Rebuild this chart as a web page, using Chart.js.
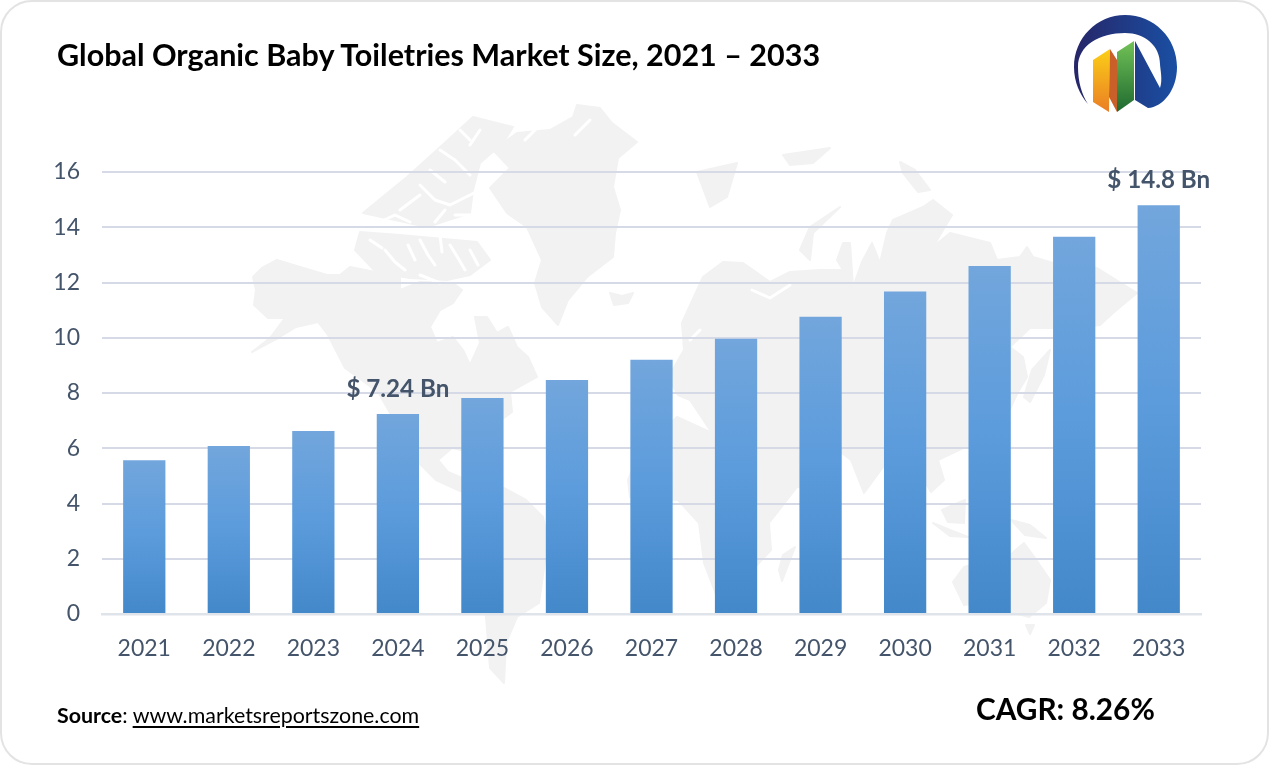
<!DOCTYPE html>
<html>
<head>
<meta charset="utf-8">
<script src="https://cdn.jsdelivr.net/npm/chart.js@4"></script>
<style>
html,body{margin:0;padding:0;background:#fff;width:1269px;height:765px;overflow:hidden;font-family:Lato,"Open Sans",sans-serif}
#frame{position:absolute;left:0;top:0;width:1269px;height:765px;box-sizing:border-box;border:2.5px solid #e3e3e3;border-radius:32px;z-index:5;pointer-events:none}
#map,#logo{position:absolute;left:0;top:0}
#map{z-index:0}#logo{z-index:3}
canvas{position:absolute;left:0;top:0;z-index:1}
.t{position:absolute;white-space:nowrap;color:#000;z-index:4}
#title{left:57px;top:36px;font-size:30.5px;font-weight:700;line-height:36px}
#source{left:57px;top:702px;font-size:21.4px;line-height:26px}
#source b{font-weight:700}#source u{text-decoration-thickness:1.5px;text-underline-offset:3px}
#cagr{left:976px;top:691px;font-size:29.8px;font-weight:700;line-height:36px}
</style>
</head>
<body>
<svg id="map" width="1269" height="765" viewBox="0 0 1269 765">
<g fill="#f2f2f2" stroke="#f2f2f2" stroke-width="2" stroke-linejoin="round">
<path d="M253,277 L262,268 L277,260 L300,267 L327,275 L340,275 L350,267 L380,273 L400,273 L400,290 L420,282 L453,283 L462,290 L453,303 L440,310 L430,327 L437,343 L453,337 L463,350 L470,365 L480,343 L475,317 L487,317 L497,333 L508,327 L517,347 L528,357 L537,377 L510,392 L512,412 L490,428 L478,448 L482,468 L470,452 L452,448 L438,460 L448,472 L462,478 L478,488 L504,488 L526,500 L543,517 L548,540 L539,603 L517,617 L506,643 L504,683 L490,668 L486,617 L478,580 L464,540 L468,515 L478,498 L458,490 L436,480 L418,462 L400,430 L378,392 L345,368 L328,335 L318,322 L296,327 L278,338 L252,352 L270,338 L285,318 L268,318 L254,305 L256,290 Z"/>
<path d="M577,105 L600,108 L612,123 L637,142 L618,158 L613,187 L620,210 L615,233 L613,257 L587,277 L568,300 L558,325 L542,307 L535,283 L542,260 L527,227 L507,213 L490,188 L510,168 L493,150 L517,133 L550,130 L573,117 Z"/>
<path d="M473,117 L513,127 L503,143 L480,163 L473,190 L470,213 L427,227 L363,213 L407,177 L437,150 Z"/>
<path d="M360,232 L400,235 L477,242 L490,260 L470,275 L447,280 L410,278 L377,273 L355,250 Z"/>
<path d="M610,293 L622,296 L633,293 L628,303 L614,305 Z"/>
<path d="M682,323 L703,277 L723,262 L743,263 L770,282 L790,272 L820,270 L843,270 L837,260 L843,243 L850,243 L853,287 L862,262 L872,243 L880,263 L887,233 L893,220 L923,207 L933,200 L952,215 L933,247 L950,233 L990,243 L997,260 L1020,257 L1027,247 L1033,257 L1053,263 L1097,268 L1137,293 L1113,313 L1100,325 L1078,328 L1030,328 L1010,347 L1023,357 L1027,377 L1018,392 L1005,420 L980,440 L938,460 L944,480 L931,492 L918,470 L886,463 L864,493 L851,460 L842,453 L799,487 L782,487 L773,470 L760,447 L755,427 L712,433 L700,415 L690,400 L678,395 L668,378 L684,350 Z"/>
<path d="M677,417 L712,433 L760,427 L782,487 L797,487 L769,523 L771,550 L745,578 L717,597 L704,563 L699,523 L678,500 L630,497 L628,480 L640,450 Z"/>
<path d="M795,547 L782,581 L779,570 L783,555 Z"/>
<path d="M953,582 L964,567 L990,560 L1010,555 L1024,543 L1035,558 L1050,580 L1046,603 L1029,617 L1010,612 L985,602 L964,605 Z"/>
<path d="M1026,625 L1034,625 L1030,634 Z"/>
<path d="M933,523 L950,530 L968,537 L950,536 Z"/><path d="M942,510 L965,500 L964,523 L948,522 Z"/><path d="M1011,520 L1030,525 L1046,538 L1025,535 Z"/>
<path d="M1024,397 L1032,370 L1050,350 L1044,375 L1030,402 Z"/>
<path d="M697,172 L737,163 L727,197 L710,207 Z"/>
<path d="M783,155 L830,148 L813,163 L790,165 Z"/>
<path d="M840,207 L810,227 L800,250 L810,260 L813,233 Z"/>
<path d="M900,162 L915,170 L930,190 L918,192 L903,173 Z"/>
</g>
<g fill="none" stroke="#fff" stroke-width="3" stroke-linecap="round" stroke-linejoin="round">
<path d="M420,185 L435,200 L450,205 L480,190"/><path d="M440,150 L455,160 L470,175"/><path d="M400,210 L420,195"/><path d="M385,250 L395,262 L405,270"/><path d="M420,240 L428,255 L435,265"/><path d="M450,245 L458,258 L465,270"/><path d="M420,275 L440,283"/><path d="M455,215 L490,215"/><path d="M480,130 L470,145"/><path d="M540,125 L525,140"/><path d="M590,120 L575,135"/>
<path d="M380,222 L395,215 L410,222"/><path d="M435,222 L445,210"/><path d="M430,170 L445,182"/><path d="M460,130 L470,140"/><path d="M370,240 L382,248"/><path d="M470,250 L478,265"/><path d="M440,235 L442,252"/><path d="M408,245 L415,260"/>
<path d="M752,290 L770,298 L790,285"/><path d="M690,340 L700,330"/>
</g>
</svg>
<canvas id="c" width="1269" height="765"></canvas>
<svg id="logo" width="1269" height="140" viewBox="0 0 1269 140">
<defs>
<linearGradient id="lb" x1="0" x2="1" y1="0" y2="0"><stop offset="0" stop-color="#262668"/><stop offset="1" stop-color="#1a4fa3"/></linearGradient>
<linearGradient id="ly" x1="0" x2="0" y1="0" y2="1"><stop offset="0" stop-color="#fbcf17"/><stop offset="1" stop-color="#ea7d25"/></linearGradient>
<linearGradient id="lg" x1="0" x2="0" y1="0" y2="1"><stop offset="0" stop-color="#72c257"/><stop offset="1" stop-color="#1f6a30"/></linearGradient>
</defs>
<path d="M1088,104 C1080,95 1074,82 1074,67 C1074,38 1097,15 1125,15 C1154,15 1177,38 1177,67 C1177,90 1163,107 1148,108 L1135,100 L1135,41 L1160,88 C1163,80 1160,68 1160,64 C1160,46 1145,33 1125,33 C1100,33 1078,45 1078,67 C1078,82 1082,95 1088,104 Z" fill="url(#lb)"/>
<path d="M1093,60 L1110,49 L1109,112 L1093,102 Z" fill="url(#ly)"/>
<path d="M1110,49 L1117,60 L1117,112 L1109,97 Z" fill="#c9602a"/>
<path d="M1117,52 L1134,41 L1134,100 L1117,112 Z" fill="url(#lg)"/>
</svg>
<div class="t" id="title">Global Organic Baby Toiletries Market Size, 2021 – 2033</div>
<div class="t" id="source"><b>Source</b>: <u>www.marketsreportszone.com</u></div>
<div class="t" id="cagr">CAGR: 8.26%</div>
<div id="frame"></div>
<script>
const categories = ["2021","2022","2023","2024","2025","2026","2027","2028","2029","2030","2031","2032","2033"];
const marketSize = [5.57,6.08,6.62,7.24,7.82,8.47,9.2,9.96,10.76,11.67,12.6,13.66,14.8];
const callouts = [null,null,null,"$ 7.24 Bn",null,null,null,null,null,null,null,null,"$ 14.8 Bn"];
const yTicks = [0,2,4,6,8,10,12,14,16];

const calloutPlugin = {
  id:'callouts',
  afterDatasetsDraw(chart){
    const ctx = chart.ctx, meta = chart.getDatasetMeta(0);
    ctx.save();
    ctx.font = '700 24.2px Lato, "Open Sans", sans-serif';
    ctx.fillStyle = '#44546a';
    ctx.textAlign = 'center';
    ctx.textBaseline = 'middle';
    callouts.forEach((t,i)=>{
      if(!t) return;
      const el = meta.data[i];
      ctx.fillText(t, el.x, el.y - 25);
    });
    ctx.restore();
  }
};

new Chart(document.getElementById('c'),{
  type:'bar',
  data:{labels:categories,datasets:[{
    data:marketSize,
    categoryPercentage:1,
    barPercentage:0.5,
    backgroundColor(c){
      const chart=c.chart, y=chart.scales.y;
      if(!y || c.raw===undefined || !chart.chartArea) return '#5b9bd5';
      const g=chart.ctx.createLinearGradient(0,y.getPixelForValue(c.raw),0,y.getPixelForValue(0));
      g.addColorStop(0,'#72a6dc');g.addColorStop(0.5,'#5b9bdc');g.addColorStop(1,'#4388c9');
      return g;
    }
  }]},
  plugins:[calloutPlugin],
  options:{
    responsive:false,animation:false,
    layout:{padding:{left:0,right:68,top:172,bottom:0}},
    plugins:{legend:{display:false},tooltip:{enabled:false},title:{display:false}},
    scales:{
      x:{
        grid:{display:false},
        border:{color:'#dfe3ea',width:2.5},
        ticks:{color:'#44546a',font:{family:'Lato, "Open Sans", sans-serif',size:23},padding:13,maxRotation:0,autoSkip:false},
        afterFit(s){s.height=151;}
      },
      y:{
        min:0,max:16,
        afterBuildTicks(s){s.ticks=yTicks.map(v=>({value:v}));},
        grid:{color:'#d6dae6',lineWidth:2,drawTicks:false},
        border:{display:false},
        ticks:{color:'#44546a',font:{family:'Lato, "Open Sans", sans-serif',size:23},padding:22},
        afterFit(s){s.width=102;}
      }
    }
  }
});
</script>
</body>
</html>
